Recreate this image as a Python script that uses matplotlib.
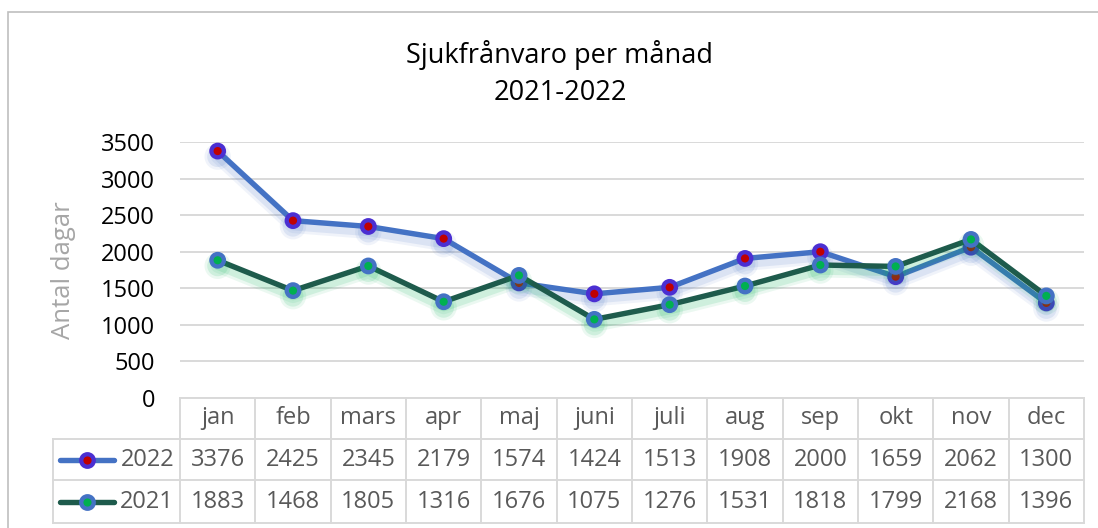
import matplotlib
matplotlib.use("Agg")
import matplotlib.pyplot as plt
import matplotlib.patheffects as pe
from matplotlib.transforms import blended_transform_factory
from matplotlib.lines import Line2D
from matplotlib.patches import Rectangle

plt.rcParams['font.family'] = ['Open Sans', 'DejaVu Sans']

months = ["jan", "feb", "mars", "apr", "maj", "juni", "juli", "aug", "sep", "okt", "nov", "dec"]
series_names = ["2022", "2021"]
values_2022 = [3376, 2425, 2345, 2179, 1574, 1424, 1513, 1908, 2000, 1659, 2062, 1300]
values_2021 = [1883, 1468, 1805, 1316, 1676, 1075, 1276, 1531, 1818, 1799, 2168, 1396]
yticks = [0, 500, 1000, 1500, 2000, 2500, 3000, 3500]

W, H = 1098, 528
fig = plt.figure(figsize=(W / 100, H / 100), dpi=100)

def fx(x):
    return x / W

def fy(y):
    return 1 - y / H

ax = fig.add_axes([fx(180), fy(398), fx(1084) - fx(180), fy(142) - fy(398)])

# chart border
fig.patches.append(Rectangle((fx(8), fy(540)), fx(1120) - fx(8), fy(12) - fy(540),
                             transform=fig.transFigure, fill=False,
                             edgecolor="#BFBFBF", linewidth=1.2, zorder=0))

x = list(range(len(months)))

styles = {
    "2022": dict(color="#4472C4", mec="#4B2FD2", mfc="#C00000", shadow="#4472C4"),
    "2021": dict(color="#1E5B4C", mec="#4472C4", mfc="#00B050", shadow="#00B050"),
}

MS, MEW, LW = 9, 3.1, 3.9

def effects(col):
    return [pe.SimpleLineShadow(offset=(0, -4), shadow_color=col, alpha=0.08, linewidth=10),
            pe.SimpleLineShadow(offset=(0, -4), shadow_color=col, alpha=0.12, linewidth=6),
            pe.Normal()]

for name, vals, z in [("2022", values_2022, 3), ("2021", values_2021, 4)]:
    s = styles[name]
    ax.plot(x, vals, color=s["color"], linewidth=LW, marker="o", markersize=MS,
            markeredgewidth=MEW, markeredgecolor=s["mec"], markerfacecolor=s["mfc"],
            zorder=z, path_effects=effects(s["shadow"]), solid_capstyle="round")

ax.set_xlim(-0.5, len(months) - 0.5)
ax.set_ylim(0, 3500)
ax.set_yticks(yticks)
ax.set_yticklabels([str(t) for t in yticks], fontsize=17, color="#000000")
ax.set_xticks([])
ax.tick_params(axis="y", length=0, pad=18)
ax.yaxis.grid(True, color="#D9D9D9", linewidth=1.4)
ax.set_axisbelow(True)
for sp in ax.spines.values():
    sp.set_visible(False)

fig.text(fx(63), fy(270), "Antal dagar", rotation=90, ha="center", va="center",
         fontsize=18.5, color="#A6A6A6")

fig.text(fx(560), fy(55), "Sjukfrånvaro per månad", ha="center", va="center",
         fontsize=19.5, color="#000000")
fig.text(fx(560), fy(93), "2021-2022", ha="center", va="center",
         fontsize=19.5, color="#000000")

# data table
tr = blended_transform_factory(ax.transData, fig.transFigure)
gc = "#D9D9D9"
lw = 1.4
n = len(months)
y_top, y_r1, y_r2, y_bot = 398, 439, 480, 523
x_leg = 53

def hline(y, x0px=None):
    if x0px is None:
        fig.add_artist(Line2D([-0.5, n - 0.5], [fy(y), fy(y)], transform=tr, color=gc, lw=lw))
    else:
        fig.add_artist(Line2D([fx(x0px), fx(1084)], [fy(y), fy(y)], transform=fig.transFigure,
                              color=gc, lw=lw))

hline(y_top)
for yy in (y_r1, y_r2, y_bot):
    hline(yy, x_leg)
for i in range(n + 1):
    fig.add_artist(Line2D([i - 0.5, i - 0.5], [fy(y_top), fy(y_bot)], transform=tr, color=gc, lw=lw))
fig.add_artist(Line2D([fx(x_leg), fx(x_leg)], [fy(y_r1), fy(y_bot)], transform=fig.transFigure,
                      color=gc, lw=lw))

tc = "#595959"
FS = 17
ymid = {"hdr": (y_top + y_r1) / 2, "2022": (y_r1 + y_r2) / 2, "2021": (y_r2 + y_bot) / 2}
for i, m in enumerate(months):
    fig.text(i, fy(ymid["hdr"]), m, transform=tr, ha="center", va="center", fontsize=FS, color=tc)
for name, vals in [("2022", values_2022), ("2021", values_2021)]:
    for i, v in enumerate(vals):
        fig.text(i, fy(ymid[name]), str(v), transform=tr, ha="center", va="center",
                 fontsize=FS, color=tc)
    s = styles[name]
    yy = fy(ymid[name])
    fig.add_artist(Line2D([fx(60), fx(114)], [yy, yy], transform=fig.transFigure,
                          color=s["color"], lw=LW, solid_capstyle="round"))
    fig.add_artist(Line2D([fx(87)], [yy], transform=fig.transFigure, marker="o",
                          markersize=MS, markeredgewidth=MEW, markeredgecolor=s["mec"],
                          markerfacecolor=s["mfc"], linestyle="none"))
    fig.text(fx(174), yy, name, ha="right", va="center", fontsize=FS, color=tc)

fig.savefig("out.png", dpi=100)
